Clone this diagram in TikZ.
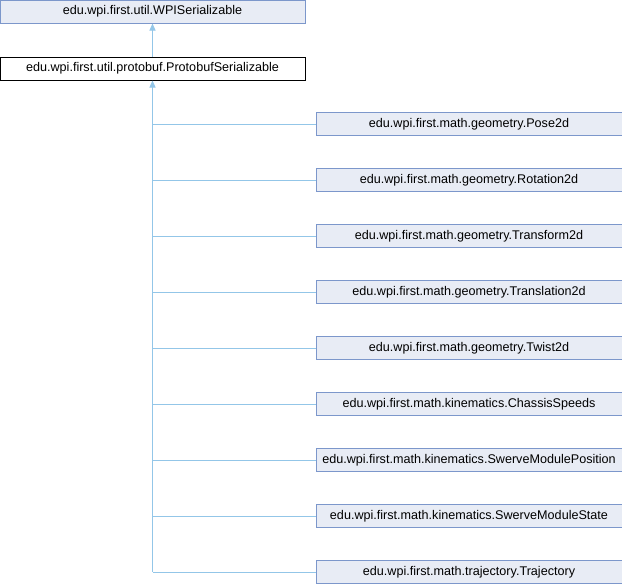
\documentclass[tikz,border=0pt]{standalone}
\usepackage{fontspec}
\setmainfont{Liberation Sans}
\usetikzlibrary{arrows.meta}
\definecolor{boxfill}{HTML}{E8ECF5}
\definecolor{boxline}{HTML}{7C97CB}
\definecolor{edgeblue}{HTML}{93C6E8}

\begin{document}
\begin{tikzpicture}[x=1pt,y=-1pt,
    cls/.style={draw=boxline,fill=boxfill,line width=1pt,minimum width=305pt,
        minimum height=23pt,inner sep=0pt,font=\fontsize{12.6}{14}\selectfont},
    inherit/.style={draw=edgeblue,line width=1pt},
    tip/.style={-{Triangle[length=7pt,width=6pt,fill=edgeblue]}}]
    \useasboundingbox (0,0) rectangle (622,584);

    % Draw the base classes
    \node[cls] (wpiser) at (152.5,11.5) {edu.wpi.first.util.WPISerializable};
    \node[cls,draw=black,fill=white] (protoser) at (152.5,68.5) {edu.wpi.first.util.protobuf.ProtobufSerializable};
    \draw[inherit,tip] (protoser) -- (wpiser);

    % Draw the implementing classes
    \foreach \name/\cname [count=\i from 0] in {pose/geometry.Pose2d, rot/geometry.Rotation2d,
        transf/geometry.Transform2d, transl/geometry.Translation2d, twist/geometry.Twist2d,
        chassis/kinematics.ChassisSpeeds, modpos/kinematics.SwerveModulePosition,
        modstate/kinematics.SwerveModuleState, traj/trajectory.Trajectory} {
        \node[cls,minimum width=306pt] (\name) at (469,124+56*\i) {edu.wpi.first.math.\cname};
        \draw[inherit] (\name.west) -- (\name.west -| protoser.south);
    }

    % Draw the trunk
    \draw[inherit,tip] (traj.west -| protoser.south) -- (protoser.south);
\end{tikzpicture}
\end{document}
